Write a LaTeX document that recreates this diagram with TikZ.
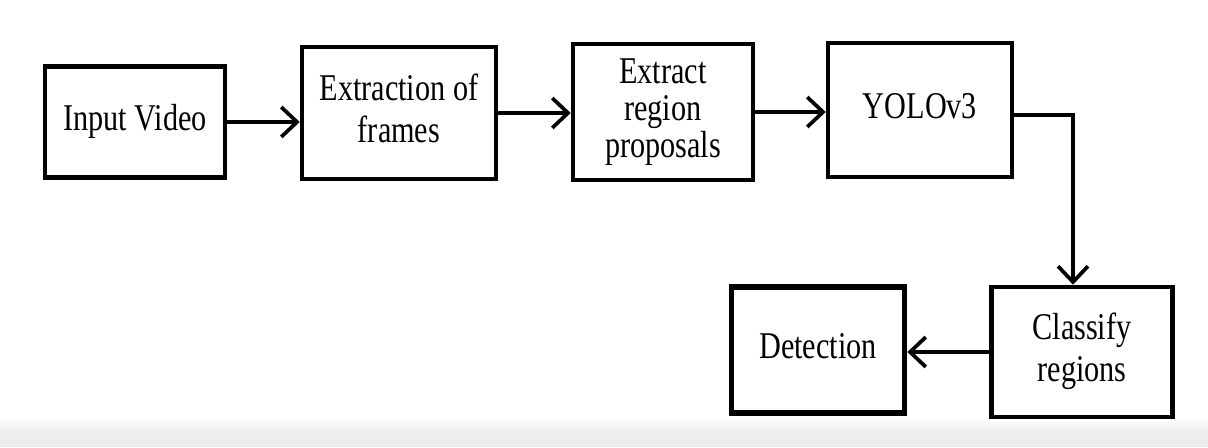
\documentclass[tikz,border=0pt]{standalone}
\usepackage{fontspec}
\setmainfont{Liberation Serif}
\usetikzlibrary{arrows.meta}

\newcommand{\boxtext}[1]{\scalebox{0.8}[1]{\begin{tabular}{@{}c@{}}#1\end{tabular}}}

\begin{document}
\begin{tikzpicture}[
        x=0.02cm, y=-0.02cm,
        stage/.style={draw, line width=2.6pt, inner sep=0pt,
            font=\fontsize{21.5}{24}\selectfont},
        flow/.style={line width=2.1pt,
            -{Straight Barb[length=9pt,width=17pt,line width=2.1pt]}}
    ]
        \useasboundingbox (0,0) rectangle (1208,447);
        \shade[top color=white, bottom color=black!7] (0,418) rectangle (1208,432);
        \fill[black!7] (0,432) rectangle (1208,447);

        \node [stage, minimum width=3.6cm, minimum height=2.22cm] (vid) at (135,122)
            {\boxtext{Input Video}};
        \node [stage, minimum width=3.88cm, minimum height=2.64cm] (frm) at (399,113)
            {\boxtext{Extraction of\\frames}};
        \node [stage, minimum width=3.6cm, minimum height=2.72cm] (prop) at (663,112)
            {\boxtext{Extract\\[-3pt]region\\[-3pt]proposals}};
        \node [stage, minimum width=3.68cm, minimum height=2.68cm] (yolo) at (920,110)
            {\boxtext{YOLOv3}};
        \node [stage, minimum width=3.62cm, minimum height=2.6cm] (cls) at (1082,352)
            {\boxtext{Classify\\regions}};
        \node [stage, line width=3.2pt, minimum width=3.46cm, minimum height=2.52cm] (det) at (818,350)
            {\boxtext{Detection}};

        \coordinate (turn) at (1073,115);
        \draw [flow] (vid.east) -- (vid.east -| frm.west);
        \draw [flow] (frm.east) -- (frm.east -| prop.west);
        \draw [flow] (prop.east) -- (prop.east -| yolo.west);
        \draw [flow] (yolo.east |- turn) -- (turn) -- (turn |- cls.north);
        \draw [flow] (cls.west) -- (cls.west -| det.east);
    \end{tikzpicture}
\end{document}
